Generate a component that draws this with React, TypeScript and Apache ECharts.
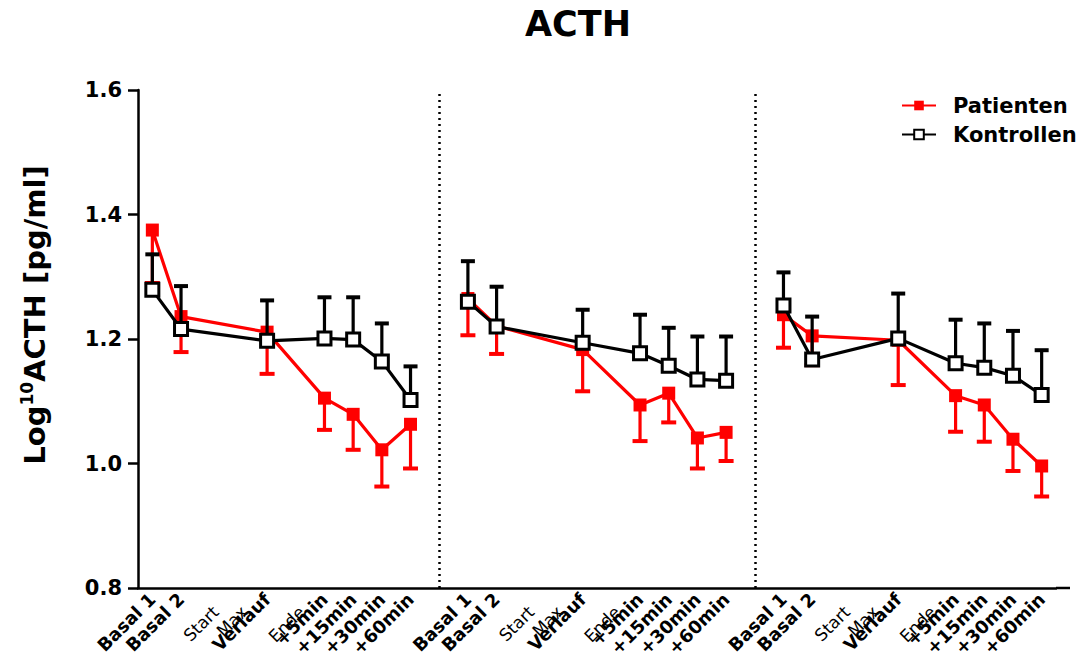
import React, { useEffect, useRef } from "react";
import * as echarts from "echarts";

// ---- data ----
const PANEL_LABELS = ["Basal 1", "Basal 2", "Start", "Max", "Verlauf", "Ende", "+5min", "+15min", "+30min", "+60min"];
const PLAIN_LABELS = ["Start", "Max", "Ende"];
const PANEL_COUNT = 3;
const Y_TICKS = [0.8, 1.0, 1.2, 1.4, 1.6];

// Patienten: mean and lower end of error bar, per panel (Basal 1, Basal 2, Verlauf, +5, +15, +30, +60)
const PATIENT_MEAN_1 = [1.375, 1.236, 1.211, 1.105, 1.079, 1.022, 1.063];
const PATIENT_LOW_1 = [1.29, 1.179, 1.144, 1.054, 1.022, 0.963, 0.992];
const PATIENT_MEAN_2 = [1.265, 1.221, 1.183, 1.094, 1.113, 1.041, 1.05];
const PATIENT_LOW_2 = [1.206, 1.176, 1.116, 1.036, 1.066, 0.992, 1.004];
const PATIENT_MEAN_3 = [1.239, 1.205, 1.198, 1.109, 1.094, 1.039, 0.996];
const PATIENT_LOW_3 = [1.186, 1.158, 1.126, 1.051, 1.035, 0.988, 0.947];

// Kontrollen: mean and upper end of error bar
const CONTROL_MEAN_1 = [1.279, 1.216, 1.197, 1.201, 1.199, 1.164, 1.102];
const CONTROL_HIGH_1 = [1.336, 1.285, 1.262, 1.267, 1.267, 1.225, 1.156];
const CONTROL_MEAN_2 = [1.26, 1.22, 1.194, 1.177, 1.157, 1.135, 1.133];
const CONTROL_HIGH_2 = [1.325, 1.284, 1.247, 1.239, 1.218, 1.204, 1.204];
const CONTROL_MEAN_3 = [1.254, 1.167, 1.201, 1.161, 1.154, 1.141, 1.11];
const CONTROL_HIGH_3 = [1.307, 1.236, 1.273, 1.231, 1.225, 1.213, 1.182];

const PATIENT_MEANS = [PATIENT_MEAN_1, PATIENT_MEAN_2, PATIENT_MEAN_3];
const PATIENT_LOWS = [PATIENT_LOW_1, PATIENT_LOW_2, PATIENT_LOW_3];
const CONTROL_MEANS = [CONTROL_MEAN_1, CONTROL_MEAN_2, CONTROL_MEAN_3];
const CONTROL_HIGHS = [CONTROL_HIGH_1, CONTROL_HIGH_2, CONTROL_HIGH_3];

// ---- derived ----
const PANEL_SIZE = PANEL_LABELS.length + 1;
const CATEGORIES: string[] = [];
for (let p = 0; p < PANEL_COUNT; p++) {
  if (p > 0) CATEGORIES.push("");
  CATEGORIES.push(...PANEL_LABELS);
}
const panelStart = (p: number) => p * PANEL_SIZE;
const MEASURED = PANEL_LABELS.map((_, i) => i).filter((i) => !PLAIN_LABELS.includes(PANEL_LABELS[i]));
const GAP_INDICES: number[] = [];
for (let p = 1; p < PANEL_COUNT; p++) GAP_INDICES.push(panelStart(p) - 1);
const isTickIndex = (idx: number) => {
  const name = CATEGORIES[idx];
  return name !== "" && !PLAIN_LABELS.includes(name);
};

const FONT = '"DejaVu Sans", Arial, sans-serif';
const RED = "#ff0000";
const BLACK = "#000000";

function lineSeries(name: string, means: number[], p: number, isPatient: boolean, z: number) {
  return {
    type: "line",
    name,
    xAxisIndex: 0,
    z,
    data: MEASURED.map((pos, k) => [panelStart(p) + pos, means[k]]),
    symbol: "rect",
    symbolSize: 13,
    lineStyle: { color: isPatient ? RED : BLACK, width: 3.2 },
    itemStyle: isPatient
      ? { color: RED, borderColor: RED, borderWidth: 0 }
      : { color: "#ffffff", borderColor: BLACK, borderWidth: 3 },
    emphasis: { disabled: true },
  };
}

function errorSeries(name: string, means: number[][], ends: number[][], color: string, capW: number, z: number) {
  const data: number[][] = [];
  for (let p = 0; p < PANEL_COUNT; p++) {
    MEASURED.forEach((pos, k) => data.push([panelStart(p) + pos, means[p][k], ends[p][k]]));
  }
  return {
    type: "custom",
    name,
    xAxisIndex: 0,
    z,
    encode: { x: 0, y: [1, 2] },
    data,
    renderItem: (params: any, api: any) => {
      const x = api.value(0);
      const a = api.coord([x, api.value(1)]);
      const b = api.coord([x, api.value(2)]);
      return {
        type: "group",
        children: [
          { type: "line", shape: { x1: a[0], y1: a[1], x2: b[0], y2: b[1] }, style: { stroke: color, lineWidth: 3.2 } },
          {
            type: "line",
            shape: { x1: b[0] - capW / 2, y1: b[1], x2: b[0] + capW / 2, y2: b[1] },
            style: { stroke: color, lineWidth: 4 },
          },
        ],
      };
    },
  };
}

export default function App() {
  const ref = useRef<HTMLDivElement>(null);
  useEffect(() => {
    if (!ref.current) return;
    const chart = echarts.init(ref.current, undefined, { renderer: "svg" });
    const series: any[] = [];
    series.push(errorSeries("errP", PATIENT_MEANS, PATIENT_LOWS, RED, 15, 1));
    for (let p = 0; p < PANEL_COUNT; p++) series.push(lineSeries("Patienten", PATIENT_MEANS[p], p, true, 2));
    series.push(errorSeries("errK", CONTROL_MEANS, CONTROL_HIGHS, BLACK, 14, 3));
    for (let p = 0; p < PANEL_COUNT; p++) series.push(lineSeries("Kontrollen", CONTROL_MEANS[p], p, false, 4));
    // separators
    series[1].markLine = {
      silent: true,
      symbol: "none",
      label: { show: false },
      lineStyle: { color: BLACK, width: 2.5, type: [2, 4] },
      data: GAP_INDICES.map((g) => ({ xAxis: g })),
    };

    const option: any = {
      animation: false,
      textStyle: { fontFamily: FONT },
      grid: { left: 138, right: 31, top: 90, bottom: 72, containLabel: false, outerBoundsMode: "none" },
      graphic: [
        {
          type: "text",
          x: 578,
          y: 24,
          style: {
            text: "ACTH",
            textAlign: "center",
            textVerticalAlign: "middle",
            font: `bold 35px ${FONT}`,
            fill: BLACK,
          },
        },
        {
          type: "line",
          shape: { x1: 1087 - 31, y1: 588, x2: 1070, y2: 588 },
          style: { stroke: BLACK, lineWidth: 2.5 },
        },
      ],
      legend: {
        data: ["Patienten", "Kontrollen"],
        orient: "vertical",
        left: 896,
        top: 90,
        itemWidth: 34,
        itemHeight: 12,
        itemGap: 8,
        textStyle: { fontFamily: FONT, fontWeight: "bold", fontSize: 21, color: BLACK, padding: [0, 0, 0, 12] },
      },
      xAxis: [
        {
          type: "category",
          data: CATEGORIES,
          boundaryGap: true,
          axisLine: { lineStyle: { color: BLACK, width: 2.5 } },
          axisTick: {
            alignWithLabel: true,
            length: 6,
            lineStyle: { color: BLACK, width: 2.5 },
            interval: (idx: number) => isTickIndex(idx),
          },
          axisLabel: {
            interval: 0,
            rotate: 45,
            margin: 8,
            color: BLACK,
            fontFamily: FONT,
            fontWeight: "bold",
            fontSize: 18,
            formatter: (v: string, idx: number) => (isTickIndex(idx) ? v : ""),
          },
          splitLine: { show: false },
        },
        {
          type: "category",
          data: CATEGORIES,
          position: "bottom",
          boundaryGap: true,
          axisLine: { show: false },
          axisTick: { show: false },
          axisLabel: {
            interval: 0,
            rotate: 45,
            margin: 15,
            verticalAlign: "top",
            color: BLACK,
            fontFamily: FONT,
            fontWeight: "normal",
            fontSize: 17,
            formatter: (v: string) => (PLAIN_LABELS.includes(v) ? v : ""),
          },
          splitLine: { show: false },
        },
      ],
      yAxis: {
        type: "value",
        min: Y_TICKS[0],
        max: Y_TICKS[Y_TICKS.length - 1],
        interval: 0.2,
        axisLine: { show: true, lineStyle: { color: BLACK, width: 2.5 } },
        axisTick: { show: true, length: 10, lineStyle: { color: BLACK, width: 2.5 } },
        axisLabel: {
          margin: 16,
          color: BLACK,
          fontFamily: FONT,
          fontWeight: "bold",
          fontSize: 21,
          formatter: (v: number) => v.toFixed(1),
        },
        splitLine: { show: false },
        name: "{p|Log}{s|10}{a|ACTH [pg/ml]}",
        nameLocation: "middle",
        nameGap: 86,
        nameTextStyle: {
          rich: {
            p: { fontFamily: FONT, fontWeight: "bold", fontSize: 29, color: BLACK, lineHeight: 34, padding: [0, 0, 0, 48] },
            a: { fontFamily: FONT, fontWeight: "bold", fontSize: 29, color: BLACK, lineHeight: 34 },
            s: { fontFamily: FONT, fontWeight: "bold", fontSize: 17, color: BLACK, verticalAlign: "top", lineHeight: 34 },
          },
        },
      },
      series,
    };
    chart.setOption(option);
    return () => chart.dispose();
  }, []);
  return (
    <div
      ref={ref}
      style={{ position: "absolute", left: 0, top: 0, width: 1087, height: 660, background: "#fff" }}
    />
  );
}
